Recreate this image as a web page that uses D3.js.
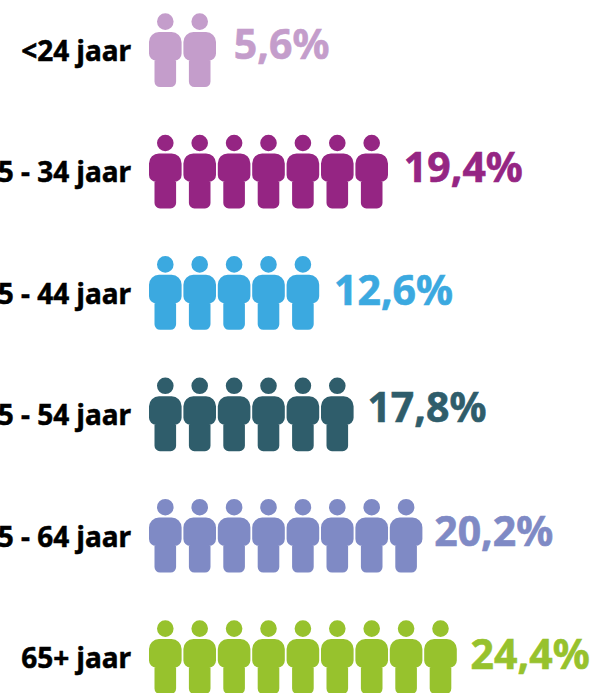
<!DOCTYPE html>
<html>
<head>
<meta charset="utf-8">
<script src="https://cdn.jsdelivr.net/npm/d3@7"></script>
<style>
html, body { margin: 0; padding: 0; background: #fff; overflow: hidden; }
text { font-family: "Noto Sans", sans-serif; font-weight: 700; }
</style>
</head>
<body>
<div id="chart"></div>
<script>
// Age groups, share of total and number of person icons per row
var ageLabels = ['<24 jaar', '25 - 34 jaar', '35 - 44 jaar', '45 - 54 jaar', '55 - 64 jaar', '65+ jaar'];
var percents = [5.6, 19.4, 12.6, 17.8, 20.2, 24.4];
var iconCounts = [2, 7, 5, 6, 8, 9];
var rowColors = ['#C49DCB', '#952583', '#3BA9E0', '#2F5D6B', '#7F8AC5', '#97C22D'];

var width = 593, height = 693;
var iconW = 32.6, iconH = 74;

var svg = d3.select('#chart').append('svg')
  .attr('width', width)
  .attr('height', height)
  .style('display', 'block');

var y = d3.scalePoint()
  .domain(ageLabels)
  .range([13, 620]);

// one step of this scale is one person
var x = d3.scaleLinear()
  .domain([0, 1])
  .range([149, 183.4]);

function personPath(){
  var p = d3.path();
  var w = iconW, r = 10, top = 19, waist = 47.5, legL = 5.5, legR = w - 5.5, bot = iconH, lr = 5.5, wr = 7;
  p.moveTo(r, top);
  p.lineTo(w - r, top);
  p.arcTo(w, top, w, top + r, r);
  p.lineTo(w, waist - wr);
  p.arcTo(w, waist, w - wr, waist, wr);
  p.lineTo(legR, waist);
  p.lineTo(legR, bot - lr);
  p.arcTo(legR, bot, legR - lr, bot, lr);
  p.lineTo(legL + lr, bot);
  p.arcTo(legL, bot, legL, bot - lr, lr);
  p.lineTo(legL, waist);
  p.lineTo(wr, waist);
  p.arcTo(0, waist, 0, waist - wr, wr);
  p.lineTo(0, top + r);
  p.arcTo(0, top, r, top, r);
  p.closePath();
  p.moveTo(w / 2 + 8.3, 8.6);
  p.arc(w / 2, 8.6, 8.3, 0, Math.PI * 2);
  p.closePath();
  return p.toString();
}

var rows = svg.selectAll('g.row')
  .data(ageLabels)
  .enter().append('g')
  .attr('class', 'row')
  .attr('transform', function(d) { return 'translate(0,' + y(d) + ')'; });

rows.append('text')
  .attr('x', 131)
  .attr('y', 48)
  .attr('text-anchor', 'end')
  .attr('font-size', 28)
  .attr('fill', '#000')
  .attr('stroke', '#000')
  .attr('stroke-width', 0.5)
  .text(function(d) { return d; });

rows.selectAll('path')
  .data(function(d, i) { return d3.range(iconCounts[i]).map(function(k) { return {k: k, color: rowColors[i]}; }); })
  .enter().append('path')
  .attr('d', personPath())
  .attr('transform', function(d) { return 'translate(' + x(d.k) + ',0)'; })
  .attr('fill', function(d) { return d.color; });

// the values are not placed quite evenly in the original
var percentGap = [16, 14, 13, 12, 10, 12];
var percentDy = [0, 2, 3, -1, 1, 3];

rows.append('text')
  .attr('x', function(d, i) { return x(iconCounts[i]) + percentGap[i]; })
  .attr('y', function(d, i) { return 46 + percentDy[i]; })
  .attr('font-size', 41)
  .attr('fill', function(d, i) { return rowColors[i]; })
  .attr('stroke', function(d, i) { return rowColors[i]; })
  .attr('stroke-width', 0.6)
  .text(function(d, i) { return d3.format('.1f')(percents[i]).replace('.', ',') + '%'; });
</script>
</body>
</html>
